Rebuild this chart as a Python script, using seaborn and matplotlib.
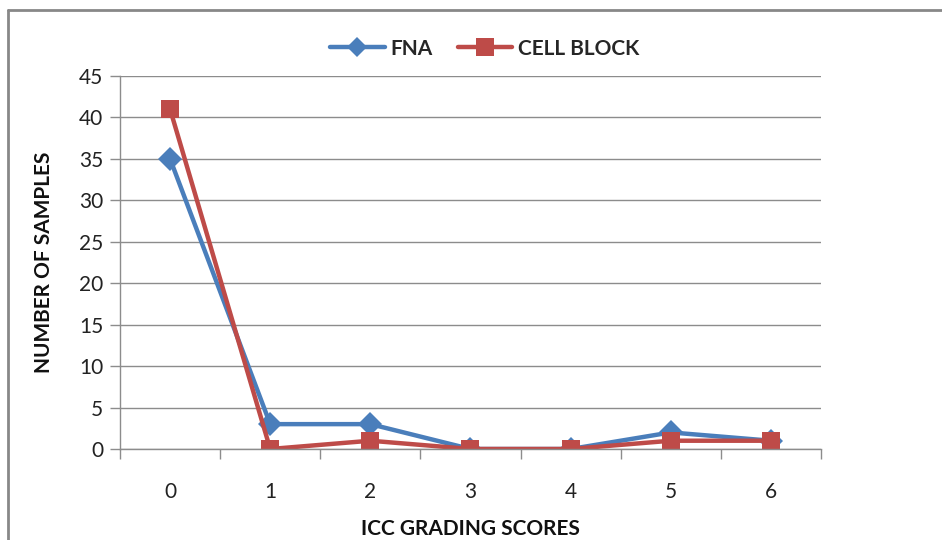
import matplotlib
matplotlib.use("Agg")
import matplotlib.pyplot as plt
from matplotlib.lines import Line2D
import seaborn as sns
import pandas as pd

# ICC grading scores and sample counts per method
scores = [0, 1, 2, 3, 4, 5, 6]
fna = [35, 3, 3, 0, 0, 2, 1]
cell_block = [41, 0, 1, 0, 0, 1, 1]
series_names = ["FNA", "CELL BLOCK"]
y_ticks = [0, 5, 10, 15, 20, 25, 30, 35, 40, 45]

df = pd.DataFrame({
    "score": scores * 2,
    "count": fna + cell_block,
    "method": [series_names[0]] * len(scores) + [series_names[1]] * len(scores),
})

sns.set_theme(style="white")
plt.rcParams["font.family"] = ["Lato", "DejaVu Sans"]

fig = plt.figure(figsize=(9.42, 5.40), dpi=100)
ax = fig.add_axes([0.1274, 0.1685, 0.7441, 0.6908])

palette = {"FNA": "#4A7EBB", "CELL BLOCK": "#BE4B48"}
marker_sizes = {"FNA": 12, "CELL BLOCK": 13.5}
sns.lineplot(data=df, x="score", y="count", hue="method", style="method",
             markers={"FNA": "D", "CELL BLOCK": "s"}, dashes=False,
             palette=palette, linewidth=3.2, markersize=12,
             markeredgewidth=0, ax=ax, legend=False, sort=False)
for line, name in zip(ax.lines, series_names):
    line.set_markersize(marker_sizes[name])

ax.set_xlim(-0.5, 6.5)
ax.set_ylim(0, 45)
ax.set_yticks(y_ticks)
ax.set_xticks(scores)
ax.set_xticks([s - 0.5 for s in scores] + [6.5], minor=True)
ax.yaxis.grid(True, color="#8C8C8C", linewidth=1)
ax.xaxis.grid(False)
ax.set_axisbelow(True)

for side in ["top", "right"]:
    ax.spines[side].set_visible(False)
for side in ["left", "bottom"]:
    ax.spines[side].set_visible(True)
    ax.spines[side].set_color("#8C8C8C")
    ax.spines[side].set_linewidth(1)

ax.tick_params(axis="y", which="major", direction="out", length=7, width=1,
               color="#8C8C8C", labelsize=15, labelcolor="#222222", pad=5, left=True)
ax.tick_params(axis="x", which="major", length=0, labelsize=15,
               labelcolor="#222222", pad=24)
ax.tick_params(axis="x", which="minor", direction="out", length=7, width=1,
               color="#8C8C8C", bottom=True)

ax.set_xlabel("ICC GRADING SCORES", fontsize=15, fontweight="bold",
              color="#111111", labelpad=12)
ax.set_ylabel("NUMBER OF SAMPLES", fontsize=15, fontweight="bold",
              color="#111111", labelpad=18)

handles = [
    Line2D([], [], color=palette["FNA"], marker="D", markersize=10,
           markeredgewidth=0, linewidth=3.2),
    Line2D([], [], color=palette["CELL BLOCK"], marker="s", markersize=12.5,
           markeredgewidth=0, linewidth=3.2),
]
fig.legend(handles, series_names, loc="center", bbox_to_anchor=(0.515, 0.91),
           ncol=2, frameon=False, handlelength=2.6, columnspacing=1.2,
           handletextpad=0.3, prop={"weight": "bold", "size": 15})

# outer frame edges of the chart area (top and left)
frame_kw = dict(transform=fig.transFigure, color="#888888", linewidth=2)
fig.lines.append(Line2D([0.0085, 1.0], [0.981, 0.981], **frame_kw))
fig.lines.append(Line2D([0.0085, 0.0085], [0.0, 0.981], **frame_kw))

fig.savefig("out.png", dpi=100)
